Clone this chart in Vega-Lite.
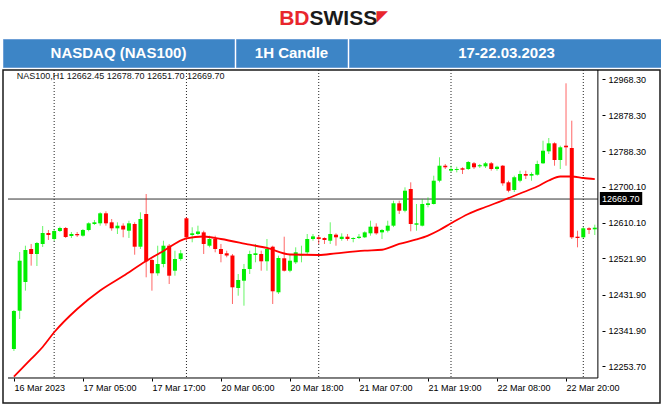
{
  "$schema": "https://vega.github.io/schema/vega-lite/v6.json",
  "padding": {"left": 2, "right": 2, "top": 0, "bottom": 5},
  "background": "#ffffff",
  "spacing": 0,
  "config": {"view": {"stroke": null}, "concat": {"spacing": 0}},
  "datasets": {
    "candles": [
      {"i":0,"o":12296.6,"h":12393.7,"l":12291.7,"c":12391.2},
      {"i":1,"o":12391.9,"h":12537.9,"l":12371.3,"c":12516.3},
      {"i":2,"o":12463.3,"h":12553.6,"l":12441.7,"c":12542.9},
      {"i":3,"o":12545.4,"h":12557.9,"l":12503.9,"c":12533.0},
      {"i":4,"o":12533.0,"h":12562.8,"l":12503.1,"c":12560.3},
      {"i":5,"o":12557.9,"h":12602.6,"l":12550.4,"c":12585.2},
      {"i":6,"o":12585.2,"h":12592.7,"l":12567.8,"c":12580.2},
      {"i":7,"o":12570.3,"h":12595.2,"l":12565.3,"c":12590.2},
      {"i":8,"o":12590.2,"h":12600.9,"l":12587.7,"c":12597.7},
      {"i":9,"o":12597.7,"h":12600.1,"l":12572.8,"c":12575.3},
      {"i":10,"o":12577.8,"h":12587.7,"l":12572.8,"c":12582.7},
      {"i":11,"o":12582.7,"h":12587.7,"l":12575.3,"c":12579.5},
      {"i":12,"o":12578.5,"h":12595.2,"l":12576.0,"c":12592.7},
      {"i":13,"o":12592.7,"h":12611.8,"l":12589.4,"c":12609.3},
      {"i":14,"o":12607.6,"h":12617.6,"l":12605.1,"c":12611.8},
      {"i":15,"o":12609.3,"h":12636.7,"l":12603.4,"c":12634.2},
      {"i":16,"o":12634.2,"h":12639.2,"l":12603.4,"c":12609.3},
      {"i":17,"o":12611.8,"h":12620.0,"l":12590.9,"c":12596.9},
      {"i":18,"o":12596.9,"h":12611.8,"l":12582.7,"c":12603.4},
      {"i":19,"o":12603.4,"h":12609.3,"l":12574.5,"c":12593.9},
      {"i":20,"o":12590.9,"h":12615.8,"l":12572.8,"c":12609.3},
      {"i":21,"o":12607.6,"h":12611.8,"l":12531.2,"c":12551.1},
      {"i":22,"o":12551.1,"h":12636.7,"l":12545.4,"c":12620.0},
      {"i":23,"o":12632.5,"h":12682.2,"l":12475.0,"c":12514.8},
      {"i":24,"o":12518.0,"h":12520.5,"l":12441.7,"c":12485.0},
      {"i":25,"o":12485.0,"h":12553.6,"l":12479.0,"c":12508.1},
      {"i":26,"o":12508.1,"h":12566.0,"l":12499.9,"c":12553.6},
      {"i":27,"o":12553.6,"h":12557.9,"l":12458.3,"c":12479.0},
      {"i":28,"o":12491.4,"h":12541.2,"l":12479.0,"c":12520.5},
      {"i":29,"o":12520.5,"h":12542.9,"l":12516.3,"c":12534.7},
      {"i":30,"o":12621.8,"h":12624.8,"l":12566.0,"c":12574.5},
      {"i":31,"o":12580.2,"h":12599.4,"l":12562.1,"c":12584.4},
      {"i":32,"o":12582.7,"h":12603.4,"l":12580.2,"c":12588.9},
      {"i":33,"o":12586.8,"h":12590.9,"l":12533.0,"c":12557.9},
      {"i":34,"o":12553.6,"h":12578.5,"l":12549.6,"c":12570.3},
      {"i":35,"o":12570.3,"h":12578.5,"l":12537.2,"c":12545.4},
      {"i":36,"o":12545.4,"h":12557.9,"l":12512.3,"c":12533.0},
      {"i":37,"o":12534.7,"h":12541.2,"l":12524.8,"c":12529.2},
      {"i":38,"o":12529.2,"h":12533.0,"l":12408.6,"c":12450.1},
      {"i":39,"o":12448.4,"h":12483.2,"l":12429.2,"c":12468.3},
      {"i":40,"o":12466.5,"h":12508.1,"l":12404.4,"c":12495.7},
      {"i":41,"o":12495.7,"h":12541.2,"l":12483.2,"c":12533.0},
      {"i":42,"o":12530.5,"h":12557.9,"l":12512.3,"c":12534.7},
      {"i":43,"o":12533.0,"h":12541.2,"l":12491.4,"c":12514.8},
      {"i":44,"o":12514.8,"h":12570.3,"l":12491.4,"c":12545.4},
      {"i":45,"o":12551.1,"h":12553.6,"l":12408.6,"c":12440.2},
      {"i":46,"o":12437.7,"h":12528.7,"l":12433.5,"c":12523.0},
      {"i":47,"o":12522.3,"h":12576.0,"l":12489.4,"c":12491.4},
      {"i":48,"o":12491.4,"h":12533.0,"l":12487.5,"c":12516.3},
      {"i":49,"o":12512.3,"h":12549.6,"l":12508.1,"c":12537.2},
      {"i":50,"o":12529.2,"h":12553.6,"l":12512.3,"c":12533.0},
      {"i":51,"o":12537.2,"h":12582.7,"l":12533.0,"c":12570.3},
      {"i":52,"o":12570.3,"h":12582.7,"l":12566.0,"c":12576.8},
      {"i":53,"o":12574.5,"h":12578.5,"l":12557.9,"c":12570.3},
      {"i":54,"o":12572.8,"h":12574.5,"l":12557.9,"c":12567.8},
      {"i":55,"o":12566.0,"h":12611.8,"l":12557.9,"c":12582.7},
      {"i":56,"o":12581.0,"h":12584.4,"l":12553.6,"c":12574.5},
      {"i":57,"o":12570.3,"h":12584.4,"l":12566.0,"c":12576.0},
      {"i":58,"o":12576.0,"h":12582.7,"l":12566.0,"c":12570.3},
      {"i":59,"o":12570.3,"h":12574.5,"l":12562.1,"c":12572.8},
      {"i":60,"o":12572.8,"h":12582.7,"l":12570.3,"c":12576.0},
      {"i":61,"o":12574.5,"h":12589.4,"l":12572.8,"c":12586.8},
      {"i":62,"o":12584.4,"h":12615.8,"l":12578.5,"c":12600.9},
      {"i":63,"o":12600.9,"h":12609.3,"l":12581.0,"c":12584.4},
      {"i":64,"o":12586.8,"h":12595.2,"l":12570.3,"c":12592.7},
      {"i":65,"o":12590.9,"h":12615.8,"l":12586.8,"c":12603.4},
      {"i":66,"o":12603.4,"h":12665.6,"l":12599.9,"c":12659.1},
      {"i":67,"o":12659.1,"h":12665.6,"l":12632.5,"c":12640.7},
      {"i":68,"o":12640.7,"h":12698.8,"l":12636.7,"c":12690.4},
      {"i":69,"o":12694.7,"h":12711.3,"l":12589.4,"c":12607.6},
      {"i":70,"o":12605.8,"h":12657.4,"l":12590.9,"c":12609.3},
      {"i":71,"o":12603.4,"h":12669.8,"l":12601.4,"c":12657.4},
      {"i":72,"o":12654.9,"h":12674.0,"l":12649.1,"c":12659.1},
      {"i":73,"o":12657.4,"h":12727.8,"l":12656.1,"c":12715.3},
      {"i":74,"o":12715.3,"h":12773.6,"l":12711.3,"c":12752.6},
      {"i":75,"o":12752.6,"h":12756.9,"l":12744.4,"c":12748.7},
      {"i":76,"o":12740.3,"h":12752.6,"l":12736.1,"c":12744.4},
      {"i":77,"o":12742.0,"h":12750.1,"l":12736.1,"c":12744.4},
      {"i":78,"o":12746.2,"h":12748.7,"l":12731.9,"c":12742.7},
      {"i":79,"o":12744.4,"h":12764.3,"l":12742.0,"c":12761.8},
      {"i":80,"o":12758.6,"h":12761.8,"l":12744.4,"c":12748.7},
      {"i":81,"o":12751.1,"h":12756.9,"l":12746.9,"c":12753.9},
      {"i":82,"o":12751.1,"h":12761.8,"l":12746.9,"c":12758.6},
      {"i":83,"o":12758.6,"h":12761.8,"l":12740.3,"c":12744.4},
      {"i":84,"o":12744.4,"h":12752.6,"l":12740.3,"c":12750.1},
      {"i":85,"o":12752.6,"h":12754.4,"l":12702.8,"c":12708.8},
      {"i":86,"o":12711.3,"h":12715.3,"l":12686.5,"c":12690.4},
      {"i":87,"o":12692.2,"h":12727.8,"l":12687.2,"c":12723.8},
      {"i":88,"o":12715.3,"h":12740.2,"l":12711.3,"c":12732.0},
      {"i":89,"o":12732.0,"h":12740.2,"l":12719.5,"c":12727.8},
      {"i":90,"o":12727.8,"h":12736.2,"l":12715.3,"c":12732.0},
      {"i":91,"o":12730.2,"h":12765.1,"l":12727.8,"c":12756.9},
      {"i":92,"o":12758.6,"h":12814.8,"l":12756.9,"c":12789.9},
      {"i":93,"o":12788.4,"h":12821.5,"l":12781.7,"c":12808.3},
      {"i":94,"o":12808.3,"h":12810.8,"l":12752.6,"c":12766.8},
      {"i":95,"o":12766.8,"h":12802.4,"l":12744.4,"c":12798.4},
      {"i":96,"o":12802.4,"h":12957.6,"l":12752.6,"c":12798.4},
      {"i":97,"o":12796.7,"h":12864.6,"l":12570.3,"c":12574.5},
      {"i":98,"o":12576.0,"h":12590.9,"l":12549.6,"c":12572.8},
      {"i":99,"o":12574.5,"h":12600.1,"l":12572.8,"c":12596.9},
      {"i":100,"o":12596.9,"h":12599.4,"l":12582.7,"c":12593.4},
      {"i":101,"o":12594.4,"h":12605.9,"l":12580.2,"c":12598.4}
    ],
    "ma": [
      {"i":0,"v":12227.7},{"i":3,"v":12271.8},{"i":5,"v":12301.6},{"i":7,"v":12338.2},
      {"i":11,"v":12396.2},{"i":15,"v":12442.2},{"i":19,"v":12478.3},{"i":23,"v":12515.6},
      {"i":26,"v":12540.4},{"i":30,"v":12572.0},{"i":33,"v":12576.5},{"i":36,"v":12570.3},
      {"i":41,"v":12556.2},{"i":44,"v":12547.9},{"i":48,"v":12531.7},{"i":53,"v":12530.5},
      {"i":56,"v":12534.7},{"i":61,"v":12541.2},{"i":64,"v":12543.5},{"i":67,"v":12557.9},
      {"i":70,"v":12569.1},{"i":72,"v":12578.8},{"i":74,"v":12592.7},{"i":76,"v":12609.3},
      {"i":79,"v":12632.5},{"i":82,"v":12649.9},{"i":85,"v":12666.1},{"i":88,"v":12683.5},
      {"i":91,"v":12700.8},{"i":93,"v":12715.9},{"i":95,"v":12725.8},{"i":97,"v":12725.8},
      {"i":99,"v":12722.0},{"i":101,"v":12719.0}
    ],
    "seps": [{"i":7},{"i":30},{"i":53},{"i":76},{"i":99}]
  },
  "vconcat": [
    {
      "width": 657,
      "height": 38,
      "layer": [
        {
          "data": {"values": [{"t": "BD"}]},
          "mark": {"type": "text", "align": "right", "dx": -22, "font": "Liberation Sans", "fontSize": 21, "fontWeight": "bold", "color": "#e8262d"},
          "encoding": {"text": {"field": "t"}}
        },
        {
          "data": {"values": [{"t": "SWISS"}]},
          "mark": {"type": "text", "align": "left", "dx": -22, "font": "Liberation Sans", "fontSize": 21, "fontWeight": "bold", "color": "#1a1a1a"},
          "encoding": {"text": {"field": "t"}}
        },
        {
          "data": {"values": [{"t": "◤"}]},
          "mark": {"type": "text", "align": "left", "dx": 45, "dy": -3, "font": "DejaVu Sans", "fontSize": 15, "color": "#e8262d"},
          "encoding": {"text": {"field": "t"}}
        }
      ]
    },
    {
      "hconcat": [
        {
          "width": 231, "height": 28,
          "view": {"fill": "#3d85c6", "stroke": "#6d9fd6"},
          "data": {"values": [{"t": "NASDAQ (NAS100)"}]},
          "mark": {"type": "text", "color": "#ffffff", "font": "Liberation Sans", "fontSize": 15, "fontWeight": "bold"},
          "encoding": {"text": {"field": "t"}}
        },
        {
          "width": 111, "height": 28,
          "view": {"fill": "#3d85c6", "stroke": "#6d9fd6"},
          "data": {"values": [{"t": "1H Candle"}]},
          "mark": {"type": "text", "color": "#ffffff", "font": "Liberation Sans", "fontSize": 15, "fontWeight": "bold"},
          "encoding": {"text": {"field": "t"}}
        },
        {
          "width": 315, "height": 28,
          "view": {"fill": "#3d85c6", "stroke": "#6d9fd6"},
          "data": {"values": [{"t": "17-22.03.2023"}]},
          "mark": {"type": "text", "color": "#ffffff", "font": "Liberation Sans", "fontSize": 15, "fontWeight": "bold"},
          "encoding": {"text": {"field": "t"}}
        }
      ]
    },
    {
      "width": 657,
      "height": 333,
      "view": {"stroke": "#1a1a1a", "strokeWidth": 1.5},
      "layer": [
        {
          "data": {"name": "seps"},
          "mark": {"type": "rule", "color": "#222222", "strokeWidth": 1, "strokeDash": [1, 2]},
          "encoding": {
            "x": {"field": "i", "type": "quantitative", "title": null},
            "y": {"datum": 12990.7},
            "y2": {"datum": 12224.5}
          }
        },
        {
          "data": {"values": [{"p": 12669.7}]},
          "mark": {"type": "rule", "color": "#333333", "strokeWidth": 1},
          "encoding": {
            "y": {"field": "p", "type": "quantitative", "title": null},
            "x": {"datum": -1.027},
            "x2": {"datum": 101.54}
          }
        },
        {
          "data": {"name": "candles"},
          "mark": {"type": "rule", "strokeWidth": 1, "opacity": 0.6},
          "encoding": {
            "x": {"field": "i", "type": "quantitative", "title": null},
            "y": {"field": "l", "type": "quantitative", "title": null},
            "y2": {"field": "h"},
            "color": {"condition": {"test": "datum.c >= datum.o", "value": "#00ee00"}, "value": "#ff0000"}
          }
        },
        {
          "data": {"name": "candles"},
          "mark": {"type": "bar", "size": 4},
          "encoding": {
            "x": {
              "field": "i", "type": "quantitative", "title": null,
              "scale": {"domain": [-1.027, 111.47], "nice": false, "zero": false},
              "axis": {
                "orient": "bottom", "offset": -25, "domain": false, "grid": false,
                "values": [0, 12, 24, 36, 48, 60, 72, 84, 96],
                "labelExpr": "['16 Mar 2023','17 Mar 05:00','17 Mar 17:00','20 Mar 06:00','20 Mar 18:00','21 Mar 07:00','21 Mar 19:00','22 Mar 08:00','22 Mar 20:00'][round(datum.value/12)]",
                "labelAlign": "left", "labelFont": "Liberation Sans", "labelFontSize": 9, "labelColor": "#000000",
                "labelPadding": 2, "tickSize": 3, "tickColor": "#000000", "labelOverlap": false, "labelFlush": false, "labelBound": false
              }
            },
            "y": {
              "field": "o", "type": "quantitative", "title": null,
              "scale": {"domain": [12162.3, 12990.7], "nice": false, "zero": false},
              "axis": {
                "orient": "right", "offset": -58, "domain": false, "grid": false,
                "values": [12253.7, 12341.9, 12431.9, 12521.9, 12610.1, 12700.1, 12788.3, 12878.3, 12968.3],
                "format": ".2f",
                "labelAlign": "left", "labelBaseline": "middle", "labelFont": "Liberation Sans", "labelFontSize": 9, "labelColor": "#000000",
                "labelPadding": 3, "tickSize": 3, "tickColor": "#000000", "labelOverlap": false, "labelFlush": false, "labelBound": false
              }
            },
            "y2": {"field": "c"},
            "color": {"condition": {"test": "datum.c >= datum.o", "value": "#00ee00"}, "value": "#ff0000"}
          }
        },
        {
          "data": {"name": "ma"},
          "mark": {"type": "line", "color": "#ff0000", "strokeWidth": 1.8, "interpolate": "monotone"},
          "encoding": {
            "x": {"field": "i", "type": "quantitative", "title": null},
            "y": {"field": "v", "type": "quantitative", "title": null}
          }
        },
        {
          "data": {"values": [{}]},
          "mark": {"type": "rule", "color": "#000000", "strokeWidth": 1},
          "encoding": {
            "y": {"datum": 12224.5},
            "x": {"datum": -1.027},
            "x2": {"datum": 101.54}
          }
        },
        {
          "data": {"values": [{}]},
          "mark": {"type": "rule", "color": "#000000", "strokeWidth": 1},
          "encoding": {
            "x": {"datum": 101.54},
            "y": {"datum": 12224.5},
            "y2": {"datum": 12990.7}
          }
        },
        {
          "data": {"values": [{}]},
          "mark": {"type": "rect", "color": "#000000"},
          "encoding": {
            "x": {"datum": 101.88},
            "x2": {"datum": 109.25},
            "y": {"datum": 12687.2},
            "y2": {"datum": 12654.9}
          }
        },
        {
          "data": {"values": [{"t": "12669.70", "p": 12669.7}]},
          "mark": {"type": "text", "align": "left", "baseline": "middle", "color": "#ffffff", "font": "Liberation Sans", "fontSize": 9},
          "encoding": {
            "x": {"datum": 102.25},
            "y": {"field": "p", "type": "quantitative", "title": null},
            "text": {"field": "t"}
          }
        },
        {
          "data": {"values": [{"t": "NAS100,H1  12662.45 12678.70 12651.70 12669.70"}]},
          "mark": {"type": "text", "align": "left", "baseline": "middle", "color": "#111111", "font": "Liberation Sans", "fontSize": 9},
          "encoding": {
            "x": {"datum": 0.5},
            "y": {"datum": 12975.8},
            "text": {"field": "t"}
          }
        }
      ]
    }
  ]
}
